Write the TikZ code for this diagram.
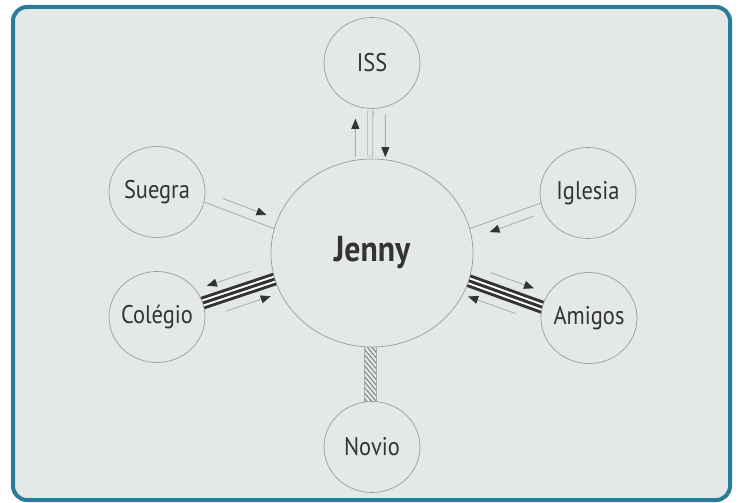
\documentclass[tikz,border=0pt]{standalone}
\usepackage{fontspec}
\setmainfont{PT Sans}
\newfontfamily\cond[FakeStretch=0.88]{PT Sans}
\usetikzlibrary{calc,arrows.meta,patterns.meta,shapes.geometric,backgrounds}
\definecolor{panel}{HTML}{E4E9E8}
\definecolor{framec}{HTML}{2A7D99}
\definecolor{ring}{HTML}{9C9C9C}
\definecolor{ink}{HTML}{333333}
\definecolor{thinc}{HTML}{ABABAB}
\begin{document}
\begin{tikzpicture}[x=1pt,y=-1pt,
  person/.style={ellipse, draw=ring, fill=panel, line width=0.7pt,
    minimum width=96pt, minimum height=91pt, inner sep=0pt},
  hub/.style={ellipse, draw=ring, fill=panel, line width=0.7pt,
    minimum width=202pt, minimum height=188pt, inner sep=0pt,
    text=ink, font=\cond\bfseries\fontsize{36}{40}\selectfont},
  lbl/.style={text=ink, inner sep=0pt, font=\cond\fontsize{25.5}{30}\selectfont},
  link/.style={draw=thinc, line width=0.8pt},
  flow/.style={draw=thinc, line width=0.8pt,
    -{Triangle[length=10pt,width=8pt,color=ink]}},
  bandout/.style={draw=ink, line width=13pt},
  bandgap/.style={draw=white, line width=7pt},
  bandmid/.style={draw=ink, line width=3pt}
]
\useasboundingbox (0,0) rectangle (739,503);

% nodes
\node[person, label={[lbl]center:ISS}] (iss) at (372,63) {};
\node[person, label={[lbl]center:Suegra}] (suegra) at (157,192) {};
\node[person, label={[lbl]center:Colégio}] (colegio) at (157,317) {};
\node[person, label={[lbl]center:Iglesia}] (iglesia) at (588,193) {};
\node[person, label={[lbl]center:Amigos}] (amigos) at (589,318) {};
\node[person, label={[lbl]center:Novio}] (novio) at (372,447) {};
\node[hub] (jenny) at (372,253) {Jenny};

\begin{scope}[on background layer]
  \fill[white] (0,0) rectangle (739,503);
  \draw[draw=framec, fill=panel, line width=4pt, rounded corners=14pt]
    (13,7) rectangle (730,500);

  % ISS
  \coordinate (i1) at (jenny.91);
  \coordinate (i2) at (iss.-92);
  \draw[draw=gray, line width=0.6pt, double=panel, double distance=4.5pt]
    ($(i1)+(0,-2)$) -- ($(i2)+(0,2)$);
  \draw[flow] ($(i1)!0.04!(i2)!15pt!90:(i2)$) -- ($(i1)!0.8!(i2)!15pt!90:(i2)$);
  \draw[flow] ($(i1)!0.9!(i2)!15pt!-90:(i2)$) -- ($(i1)!0.03!(i2)!15pt!-90:(i2)$);

  % Suegra
  \coordinate (s1) at (suegra.-12);
  \coordinate (s2) at (jenny.166);
  \draw[link] (s1) -- (s2);
  \draw[flow] ($(s1)!0.22!(s2)!10pt!90:(s2)$) -- ($(s1)!0.84!(s2)!10pt!90:(s2)$);

  % Iglesia
  \coordinate (g1) at (iglesia.192);
  \coordinate (g2) at (jenny.14);
  \draw[link] (g1) -- (g2);
  \draw[flow] ($(g1)!0.15!(g2)!10pt!90:(g2)$) -- ($(g1)!0.77!(g2)!10pt!90:(g2)$);

  % Colegio
  \coordinate (c1) at (colegio.17);
  \coordinate (c2) at (jenny.195);
  \draw[bandout] ($(c1)!-6pt!(c2)$) -- ($(c2)!-6pt!(c1)$);
  \draw[bandgap] ($(c1)!-6pt!(c2)$) -- ($(c2)!-6pt!(c1)$);
  \draw[bandmid] ($(c1)!-6pt!(c2)$) -- ($(c2)!-6pt!(c1)$);
  \draw[flow] ($(c1)!0.73!(c2)!15pt!90:(c2)$) -- ($(c1)!0.12!(c2)!15pt!90:(c2)$);
  \draw[flow] ($(c1)!0.25!(c2)!15pt!-90:(c2)$) -- ($(c1)!0.88!(c2)!15pt!-90:(c2)$);

  % Amigos
  \coordinate (a1) at (jenny.-16);
  \coordinate (a2) at (amigos.167);
  \draw[bandout] ($(a1)!-6pt!(a2)$) -- ($(a2)!-6pt!(a1)$);
  \draw[bandgap] ($(a1)!-6pt!(a2)$) -- ($(a2)!-6pt!(a1)$);
  \draw[bandmid] ($(a1)!-6pt!(a2)$) -- ($(a2)!-6pt!(a1)$);
  \draw[flow] ($(a1)!0.23!(a2)!15pt!90:(a2)$) -- ($(a1)!0.82!(a2)!15pt!90:(a2)$);
  \draw[flow] ($(a1)!0.71!(a2)!15pt!-90:(a2)$) -- ($(a1)!0.06!(a2)!15pt!-90:(a2)$);

  % Novio
  \coordinate (n1) at ($(jenny.south)+(-2,-4)$);
  \coordinate (n2) at ($(novio.north)+(-2,4)$);
  \fill[pattern={Lines[angle=-50,distance=3.5pt,line width=1pt]}, pattern color=gray]
    ($(n1)+(-6,0)$) rectangle ($(n2)+(6,0)$);
  \draw[draw=thinc, line width=0.6pt] ($(n1)+(-6,0)$) -- ($(n2)+(-6,0)$);
  \draw[draw=thinc, line width=0.6pt] ($(n1)+(6,0)$) -- ($(n2)+(6,0)$);
\end{scope}
\end{tikzpicture}
\end{document}
